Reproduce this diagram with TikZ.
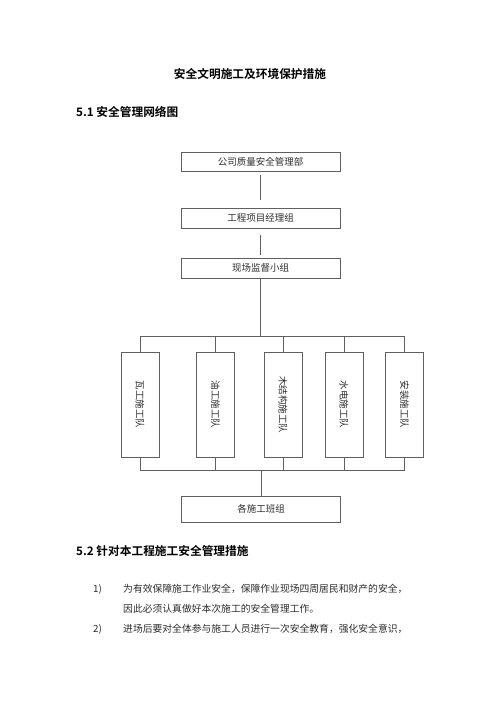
\documentclass[tikz,border=0pt]{standalone}
\usepackage{fontspec}
\setmainfont{Noto Sans CJK SC}[BoldFont={Noto Sans CJK SC Bold}]
\usepackage{xcolor}
\usepackage{tikz}

\definecolor{linegray}{RGB}{95,95,95}
\definecolor{textgray}{RGB}{45,45,45}

\tikzset{
  topbox/.style={draw=linegray, line width=0.7pt, minimum width=159pt, minimum height=20pt,
    inner sep=0pt, text=textgray, font=\fontsize{9.5}{11}\selectfont},
  teambox/.style={draw=linegray, line width=0.7pt, minimum width=38pt, minimum height=105pt,
    inner sep=0pt, text=textgray, font=\fontsize{9.5}{11}\selectfont},
  link/.style={draw=linegray, line width=0.7pt},
  bodytext/.style={anchor=west, inner sep=0pt, text=textgray, font=\fontsize{9.8}{12}\selectfont},
  headtext/.style={anchor=west, inner sep=0pt, font=\bfseries\fontsize{11.7}{14}\selectfont}
}

\begin{document}
\begin{tikzpicture}[x=1pt,y=-1pt]
\fill[white] (0,0) rectangle (500,707);
\useasboundingbox (0,0) rectangle (500,707);

% headings
\node[headtext, anchor=center] (title) at (250,74) {安全文明施工及环境保护措施};
\node[headtext] (sec1) at (76,112) {5.1 安全管理网络图};

% chart
\node[topbox, minimum height=19pt] (dept) at (260.5,161.5) {公司质量安全管理部};
\node[topbox] (mgr) at (260.5,218) {工程项目经理组};
\node[topbox] (sup) at (260.5,268) {现场监督小组};

\node[teambox] (t1) at (140,404.5) {\rotatebox{-90}{瓦工施工队}};
\node[teambox] (t2) at (215.5,404.5) {\rotatebox{-90}{油工施工队}};
\node[teambox] (t3) at (283,404.5) {\rotatebox{-90}{木结构施工队}};
\node[teambox] (t4) at (344,404.5) {\rotatebox{-90}{水电施工队}};
\node[teambox] (t5) at (404.5,404.5) {\rotatebox{-90}{安装施工队}};

\node[topbox, minimum height=26pt] (crew) at (261,509) {各施工班组};

\coordinate (busT) at (257,336);
\coordinate (busB) at (257,470);

\draw[link, shorten <=4pt, shorten >=8pt] (dept.south) -- (mgr.north);
\draw[link, shorten <=7pt, shorten >=3pt] (mgr.south) -- (sup.north);
\draw[link] (sup.south) -- (sup.south |- busT);
\draw[link] (t1.north |- busT) -- (t5.north |- busT);
\draw[link] (t1.south |- busB) -- (t5.south |- busB);
\foreach \i in {1,...,5} {
  \draw[link] (t\i.north) -- (t\i.north |- busT);
  \draw[link] (t\i.south) -- (t\i.south |- busB);
}
\draw[link] (crew.north |- busB) -- (crew.north);

% measures
\node[headtext] (sec2) at (76,551) {5.2 针对本工程施工安全管理措施};
\node[bodytext] (n1) at (93,589) {1)};
\node[bodytext] (p1a) at (123,589) {为有效保障施工作业安全，保障作业现场四周居民和财产的安全，};
\node[bodytext] (p1b) at (123,609) {因此必须认真做好本次施工的安全管理工作。};
\node[bodytext] (n2) at (93,629) {2)};
\node[bodytext] (p2) at (123,629) {进场后要对全体参与施工人员进行一次安全教育，强化安全意识，};
\end{tikzpicture}
\end{document}
